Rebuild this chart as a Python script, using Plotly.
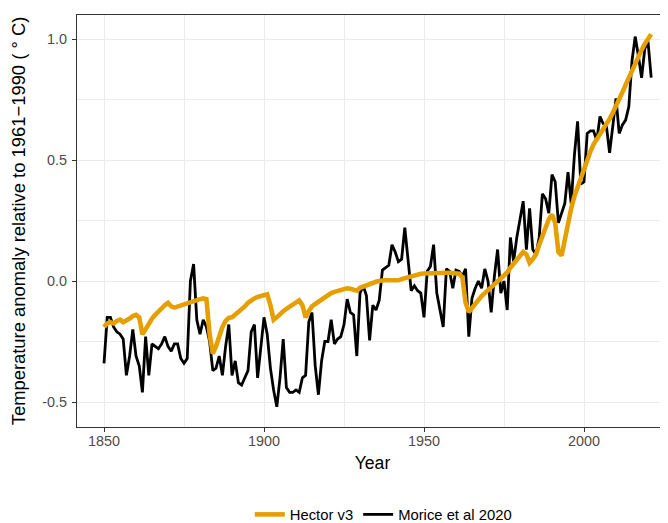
import plotly.graph_objects as go

years = list(range(1850, 2022))

morice = [
    -0.34, -0.15, -0.15, -0.19, -0.21, -0.22, -0.24, -0.39, -0.31, -0.20,   # 1850-1859
    -0.31, -0.35, -0.46, -0.23, -0.39, -0.26, -0.27, -0.28, -0.26, -0.23,   # 1860-1869
    -0.27, -0.29, -0.26, -0.26, -0.32, -0.34, -0.32, 0.00, 0.07, -0.16,     # 1870-1879
    -0.22, -0.16, -0.19, -0.25, -0.37, -0.36, -0.31, -0.39, -0.27, -0.18,   # 1880-1889
    -0.39, -0.33, -0.42, -0.43, -0.40, -0.37, -0.21, -0.18, -0.40, -0.28,   # 1890-1899
    -0.15, -0.22, -0.36, -0.45, -0.52, -0.40, -0.24, -0.44, -0.46, -0.46,   # 1900-1909
    -0.45, -0.46, -0.40, -0.39, -0.17, -0.13, -0.35, -0.47, -0.33, -0.25,   # 1910-1919
    -0.25, -0.16, -0.26, -0.24, -0.23, -0.18, -0.075, -0.13, -0.14, -0.31,  # 1920-1929
    -0.05, -0.02, -0.06, -0.245, -0.10, -0.12, -0.08, 0.045, 0.056, 0.065,  # 1930-1939
    0.15, 0.12, 0.08, 0.09, 0.22, 0.09, -0.04, -0.02, -0.04, -0.05,         # 1940-1949
    -0.15, 0.04, 0.06, 0.15, -0.05, -0.12, -0.19, 0.05, 0.04, -0.03,        # 1950-1959
    0.045, 0.04, 0.02, 0.05, -0.23, -0.07, -0.03, 0.0, -0.03, 0.05,         # 1960-1969
    0.0, -0.13, 0.02, 0.13, -0.05, 0.0, -0.12, 0.18, 0.08, 0.18,            # 1970-1979
    0.26, 0.33, 0.13, 0.30, 0.13, 0.11, 0.18, 0.36, 0.34, 0.28,             # 1980-1989
    0.44, 0.41, 0.24, 0.28, 0.32, 0.45, 0.32, 0.52, 0.66, 0.40,             # 1990-1999
    0.41, 0.61, 0.62, 0.62, 0.58, 0.68, 0.65, 0.64, 0.53, 0.64,             # 2000-2009
    0.755, 0.61, 0.645, 0.665, 0.72, 0.91, 1.01, 0.93, 0.84, 0.96,          # 2010-2019
    0.99, 0.84,                                                             # 2020-2021
]

# Hector v3 (modelled anomaly)
hector = [
    -0.19, -0.175, -0.17, -0.175, -0.165, -0.16, -0.17, -0.165, -0.155, -0.145,   # 1850-1859
    -0.14, -0.15, -0.22, -0.20, -0.175, -0.155, -0.14, -0.125, -0.11, -0.10,      # 1860-1869
    -0.09, -0.105, -0.11, -0.105, -0.10, -0.095, -0.09, -0.085, -0.08, -0.078,    # 1870-1879
    -0.075, -0.072, -0.075, -0.22, -0.30, -0.27, -0.225, -0.19, -0.165, -0.152,   # 1880-1889
    -0.15, -0.14, -0.13, -0.115, -0.105, -0.09, -0.08, -0.072, -0.066, -0.062,    # 1890-1899
    -0.058, -0.055, -0.10, -0.16, -0.15, -0.135, -0.125, -0.115, -0.105, -0.095,  # 1900-1909
    -0.085, -0.08, -0.10, -0.15, -0.125, -0.105, -0.095, -0.085, -0.075, -0.065,  # 1910-1919
    -0.06, -0.05, -0.045, -0.04, -0.035, -0.03, -0.03, -0.032, -0.035, -0.04,     # 1920-1929
    -0.028, -0.022, -0.02, -0.015, -0.005, -0.003, 0.0, 0.004, 0.004, 0.003,      # 1930-1939
    0.002, 0.003, 0.003, 0.008, 0.012, 0.016, 0.022, 0.026, 0.028, 0.03,          # 1940-1949
    0.031, 0.032, 0.033, 0.034, 0.035, 0.035, 0.035, 0.034, 0.034, 0.033,         # 1950-1959
    0.032, 0.03, 0.015, -0.09, -0.128, -0.11, -0.092, -0.078, -0.062, -0.05,      # 1960-1969
    -0.038, -0.025, -0.018, -0.005, 0.01, 0.02, 0.035, 0.055, 0.07, 0.09,         # 1970-1979
    0.105, 0.12, 0.11, 0.075, 0.09, 0.11, 0.15, 0.185, 0.225, 0.255,              # 1980-1989
    0.275, 0.24, 0.12, 0.105, 0.17, 0.24, 0.30, 0.35, 0.39, 0.43,                 # 1990-1999
    0.46, 0.50, 0.535, 0.565, 0.585, 0.605, 0.625, 0.645, 0.67, 0.695,            # 2000-2009
    0.72, 0.75, 0.78, 0.81, 0.84, 0.875, 0.905, 0.93, 0.955, 0.98,                # 2010-2019
    1.0, 1.02,                                                                    # 2020-2021
]

x_ticks = [1850, 1900, 1950, 2000]
y_ticks = [-0.5, 0.0, 0.5, 1.0]
y_tick_labels = ["-0.5", "0.0", "0.5", "1.0"]

fig = go.Figure()
fig.add_trace(go.Scatter(
    x=years, y=morice, mode="lines", name="Morice et al 2020",
    line=dict(color="#000000", width=2.8),
))
fig.add_trace(go.Scatter(
    x=years, y=hector, mode="lines", name="Hector v3",
    line=dict(color="#E69F00", width=4.6),
))

font_family = "Liberation Sans, Arial, sans-serif"

# the page body adds an 8px offset; the figure is sized so the panel lands
# where the reference panel is (x 77..668, y 15..427 in the window)
fig.update_layout(
    width=660, height=523,
    margin=dict(l=69, r=0, t=7, b=104, autoexpand=False),
    paper_bgcolor="white", plot_bgcolor="white",
    font=dict(family=font_family, color="#000000"),
    showlegend=True,
    legend=dict(
        orientation="h", x=0.2924, xanchor="left", y=-0.213, yanchor="middle",
        font=dict(size=14.8, color="#000000", family=font_family),
        traceorder="reversed", itemwidth=30,
        bgcolor="rgba(0,0,0,0)",
    ),
)

fig.update_xaxes(
    range=[1841.56, 2026.25], automargin=False,
    tickvals=x_ticks, ticktext=[str(v) for v in x_ticks],
    ticks="outside", ticklen=4, tickcolor="#333333", tickwidth=1,
    ticklabelstandoff=-3,
    tickfont=dict(size=14.4, color="#4D4D4D"),
    showgrid=True, gridcolor="#EBEBEB", gridwidth=1.1,
    minor=dict(tickvals=[1875, 1925, 1975, 2025], showgrid=True,
               gridcolor="#EBEBEB", gridwidth=0.6, ticks=""),
    showline=True, linecolor="#333333", linewidth=1, mirror=True,
    zeroline=False,
    title=dict(text="Year", font=dict(size=17.6, color="#000000"), standoff=8),
)
fig.update_yaxes(
    range=[-0.6033, 1.0992], automargin=False,
    tickvals=y_ticks, ticktext=y_tick_labels,
    ticks="outside", ticklen=4, tickcolor="#333333", tickwidth=1,
    ticklabelstandoff=2,
    tickfont=dict(size=14.4, color="#4D4D4D"),
    showgrid=True, gridcolor="#EBEBEB", gridwidth=1.1,
    minor=dict(tickvals=[-0.25, 0.25, 0.75], showgrid=True,
               gridcolor="#EBEBEB", gridwidth=0.6, ticks=""),
    showline=True, linecolor="#333333", linewidth=1, mirror=False,
    zeroline=False,
    title=dict(text="Temperature anomaly relative to 1961\u22121990 ( \u00b0 C)",
               font=dict(size=18.4, color="#000000"), standoff=12),
)

fig.write_html("out.html")
